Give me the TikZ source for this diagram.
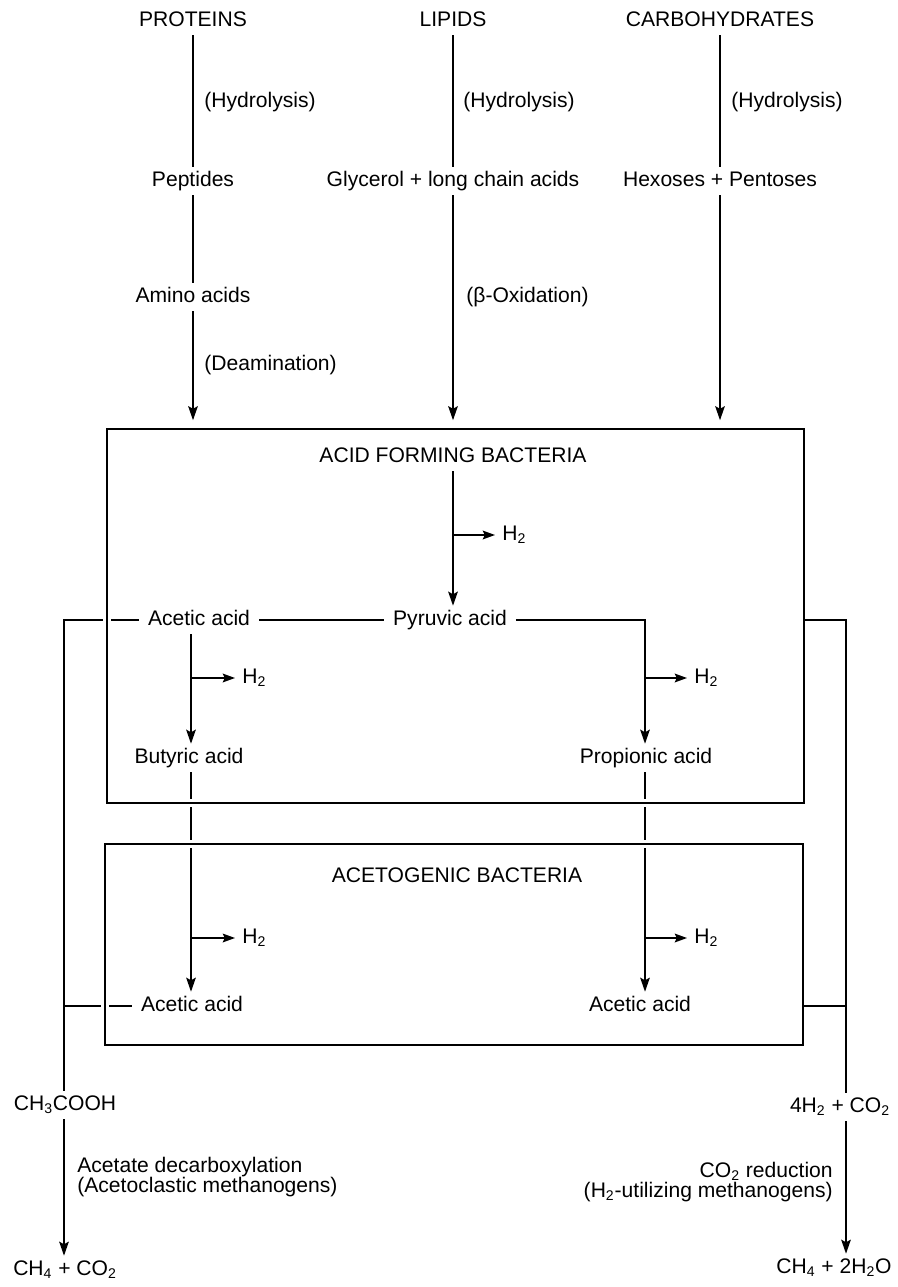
\documentclass[tikz,border=0pt]{standalone}
\usepackage{fontspec}
\setmainfont{Liberation Sans}
\usetikzlibrary{arrows.meta}
\tikzset{
  lbl/.style={font=\fontsize{12}{11.5}\selectfont, inner xsep=5pt, inner ysep=2.4pt, text height=8.6pt, text depth=2.5pt},
  side/.style={font=\fontsize{12}{11.5}\selectfont, inner sep=0pt, anchor=west},
  gasout/.style={font=\fontsize{12}{11.5}\selectfont, inner xsep=4pt, inner ysep=1pt, anchor=west},
  flow/.style={line width=0.8pt},
  arr/.style={flow, -{Stealth[length=8pt,width=5.5pt,inset=1.5pt]}},
  hyd/.style={flow, -{Stealth[length=7pt,width=5pt,inset=1.2pt]}},
  frame/.style={line width=1.2pt, preaction={draw=white, line width=5pt}}
}

\begin{document}
\begin{tikzpicture}[x=0.02cm, y=-0.02cm]
    \useasboundingbox (0,0) rectangle (897,1287);
    % columns and boxes
    \coordinate (lline) at (64,620);
    \coordinate (lcol) at (191,620);
    \coordinate (rcol) at (645,620);
    \coordinate (rline) at (846,620);
    \coordinate (afb nw) at (107,429); \coordinate (afb se) at (804,803);
    \coordinate (agb nw) at (105,844); \coordinate (agb se) at (803,1045);

    % substrates
    \node[lbl] (prot) at (193,21) {PROTEINS};
    \node[lbl] (lip) at (453,21) {LIPIDS};
    \node[lbl] (carb) at (720,21) {CARBOHYDRATES};
    \node[lbl] (pep) at (193,181) {Peptides};
    \node[lbl] (glyc) at (453,181) {Glycerol + long chain acids};
    \node[lbl] (hex) at (720,181) {Hexoses + Pentoses};
    \node[lbl] (amino) at (193,297) {Amino acids};
    \node[side] (hyd1) at (204,102) {(Hydrolysis)};
    \node[side] (hyd2) at (463,102) {(Hydrolysis)};
    \node[side] (hyd3) at (731,102) {(Hydrolysis)};
    \node[side] (boxid) at (466,297) {(β-Oxidation)};
    \node[side] (deam) at (204,365) {(Deamination)};
    \draw[flow] (prot) -- (pep);
    \draw[flow] (pep) -- (amino);
    \draw[arr, shorten >=5pt] (amino) -- (amino |- afb nw);
    \draw[flow] (lip) -- (glyc);
    \draw[arr, shorten >=5pt] (glyc) -- (glyc |- afb nw);
    \draw[flow] (carb) -- (hex);
    \draw[arr, shorten >=5pt] (hex) -- (hex |- afb nw);

    % acid forming bacteria
    \node[lbl] (afbtitle) at (453,457) {ACID FORMING BACTERIA};
    \node[lbl] (pyr) at (450,620) {Pyruvic acid};
    \node[lbl] (acet1) at (199,620) {Acetic acid};
    \node[lbl] (but) at (189,758) {Butyric acid};
    \node[lbl] (prop) at (646,758) {Propionic acid};
    \node[gasout] (hA) at (495,535) {H\textsubscript{2}};
    \node[gasout] (hB) at (235,678) {H\textsubscript{2}};
    \node[gasout] (hC) at (687,678) {H\textsubscript{2}};
    \draw[arr] (afbtitle) -- (afbtitle |- pyr.north);
    \draw[hyd] (afbtitle |- hA) -- (hA.west);
    \draw[flow] (acet1) -- (pyr);
    \draw[arr] (pyr.east) -| (prop.north -| rcol);
    \draw[arr] (acet1.south -| lcol) -- (but.north -| lcol);
    \draw[hyd] (lcol |- hB) -- (hB.west);
    \draw[hyd] (rcol |- hC) -- (hC.west);

    % acetogenic bacteria
    \node[lbl] (agbtitle) at (457,877) {ACETOGENIC BACTERIA};
    \node[lbl] (acet2) at (192,1006) {Acetic acid};
    \node[lbl] (acet3) at (640,1006) {Acetic acid};
    \node[gasout] (hD) at (235,938) {H\textsubscript{2}};
    \node[gasout] (hE) at (687,938) {H\textsubscript{2}};
    \draw[arr] (but.south -| lcol) -- (acet2.north -| lcol);
    \draw[arr] (prop.south -| rcol) -- (acet3.north -| rcol);
    \draw[hyd] (lcol |- hD) -- (hD.west);
    \draw[hyd] (rcol |- hE) -- (hE.west);

    % methanogens
    \node[lbl] (acid) at (65,1105) {CH\textsubscript{3}COOH};
    \node[lbl] (gas) at (840,1107) {4H\textsubscript{2} + CO\textsubscript{2}};
    \node[lbl] (ch4a) at (65,1270) {CH\textsubscript{4} + CO\textsubscript{2}};
    \node[lbl] (ch4b) at (834,1268) {CH\textsubscript{4} + 2H\textsubscript{2}O};
    \node[side, align=left] (acelbl) at (77,1177) {Acetate decarboxylation\\(Acetoclastic methanogens)};
    \node[side, align=right, anchor=east] (co2lbl) at (833,1182) {CO\textsubscript{2} reduction\\(H\textsubscript{2}-utilizing methanogens)};
    \draw[flow] (acet1.west) -- (acet1.west -| lline) -- (acid.north -| lline);
    \draw[flow] (acet2.west) -- (acet2.west -| lline);
    \draw[arr] (acid.south -| lline) -- (ch4a.north -| lline);

    % frames cut the lines that cross them
    \draw[frame] (afb nw) rectangle (afb se);
    \draw[frame] (agb nw) rectangle (agb se);

    \draw[flow] (afb se |- pyr) -- (pyr -| rline) -- (gas.north -| rline);
    \draw[flow] (agb se |- acet3) -- (acet3 -| rline);
    \draw[arr] (gas.south -| rline) -- (ch4b.north -| rline);
\end{tikzpicture}
\end{document}
